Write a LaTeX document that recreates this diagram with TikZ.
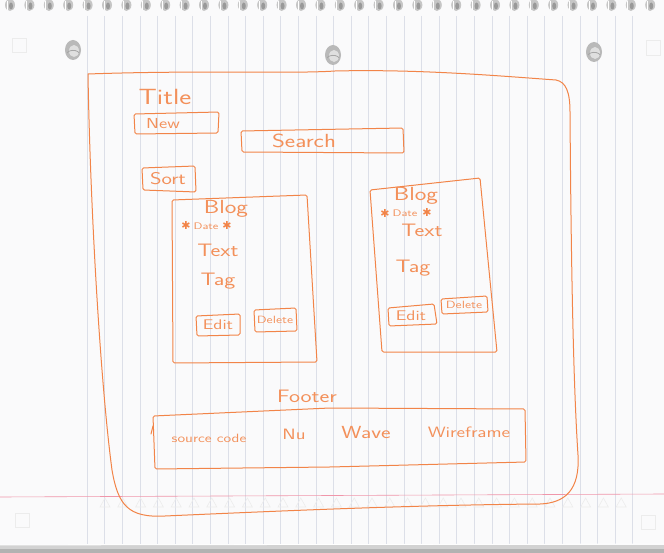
\documentclass[tikz,border=0pt]{standalone}
\usepackage{fontspec}
\newfontfamily\symfont{DejaVu Sans}
\definecolor{inkorange}{RGB}{242,132,72}
\definecolor{paper}{RGB}{250,250,251}
\definecolor{rule}{RGB}{220,223,232}
\definecolor{margin}{RGB}{240,150,170}
% handwriting runs wide: stretch the letters sideways
\newcommand\wide[1]{\scalebox{1.3}[1]{#1}}
\begin{document}
\begin{tikzpicture}[x=1pt,y=-1pt,
  ink/.style={draw=inkorange, line width=1pt, line join=round, line cap=round},
  boxink/.style={ink, rounded corners=1.5pt},
  hand/.style={text=inkorange!90, font=\sffamily\fontsize{#1}{#1}\selectfont, inner sep=0pt},
  star/.style={text=inkorange, font=\symfont\fontsize{#1}{#1}\selectfont, inner sep=0pt},
  faint/.style={draw=gray!15, line width=0.6pt}]
\useasboundingbox (0,0) rectangle (664,553);

% sheet of notebook paper
\fill[paper] (0,0) rectangle (664,553);

% ruled lines
\foreach \k in {0,...,31}
  \draw[rule, line width=0.5pt] ({87+17.6*\k},16) -- ({87+17.6*\k},544);
% margin line
\draw[margin, line width=0.6pt] (0,497) -- (664,494);

% faint printed triangles along the margin
\foreach \k in {0,...,29}
  \draw[faint] ({100+17.8*\k},507) -- ({105+17.8*\k},498) -- ({110+17.8*\k},507) -- cycle;

% corner marks
\draw[faint, line width=0.8pt] (12,38) rectangle (26,52);
\draw[faint, line width=0.8pt] (646,40) rectangle (660,55);
\draw[faint, line width=0.8pt] (15,513) rectangle (29,527);
\draw[faint, line width=0.8pt] (641,515) rectangle (655,529);

% spiral binding
\foreach \k in {0,...,33} {
  \fill[gray!45] ({10+19.4*\k},5) ellipse (5 and 6);
  \fill[gray!80] ({11+19.4*\k},6) ellipse (2 and 3.5);
  \draw[white, line width=0.8pt] ({7+19.4*\k},1) -- ({7+19.4*\k},10);
}

% punched holes
\foreach \hx/\hy in {73/50, 333/55, 594/52} {
  \fill[gray!55] (\hx,\hy) ellipse (8 and 10);
  \fill[gray!25] (\hx+1,\hy+1) ellipse (5 and 6);
  \draw[gray!70, line width=0.8pt] (\hx-6,\hy+3) arc (200:340:6.5 and 4);
}

% bottom edge of the sheet
\fill[gray!35] (0,545) rectangle (664,553);
\fill[gray!60] (0,549) rectangle (664,553);
\draw[white, line width=0.8pt] (0,545) -- (664,544);

% page frame
\draw[ink] (88,74) .. controls (200,70) and (290,74) .. (335,71)
  .. controls (420,69) and (500,76) .. (556,80)
  .. controls (566,82) and (570,92) .. (570,112)
  .. controls (571,250) and (573,380) .. (578,455)
  .. controls (580,490) and (565,503) .. (540,504)
  .. controls (420,505) and (300,510) .. (165,516)
  .. controls (128,518) and (118,505) .. (112,470)
  .. controls (100,380) and (90,200) .. (88,74);

% header controls
\node[hand=22] (title) at (165,97) {\wide{Title}};
\draw[boxink] (134,114) -- (219,112) -- (218,133) -- (135,134) -- cycle;
\node[hand=14.5] (new) at (163,124) {\wide{New}};
\draw[boxink] (241,131) -- (403,128) -- (404,153) -- (242,152) -- cycle;
\node[hand=19] (search) at (304,141) {\wide{Search}};
\draw[boxink] (142,168) -- (195,166) -- (196,192) -- (143,190) -- cycle;
\node[hand=17] (sort) at (168,179) {\wide{Sort}};

% left blog card
\draw[boxink] (172,200) -- (307,195) -- (317,362) -- (173,363) -- cycle;
\node[hand=19] (blogL) at (226,209) {\wide{Blog}};
\node[hand=9.5] (dateL) at (206,226) {\wide{Date}};
\node[star=11] (starL1) at (186,225) {✱};
\node[star=11] (starL2) at (227,225) {✱};
\node[hand=18] (textL) at (218,250) {\wide{Text}};
\node[hand=18] (tagL) at (218,281) {\wide{Tag}};
\draw[boxink] (196,316) -- (240,314) -- (240,335) -- (197,336) -- cycle;
\node[hand=14] (editL) at (218,325) {\wide{Edit}};
\draw[boxink] (254,310) -- (296,308) -- (297,331) -- (255,332) -- cycle;
\node[hand=10.5] (deleteL) at (275,320) {\wide{Delete}};

% right blog card
\draw[boxink] (370,190) -- (480,178) -- (497,352) -- (382,352) -- cycle;
\node[hand=19] (blogR) at (416,196) {\wide{Blog}};
\node[hand=9.5] (dateR) at (405,213) {\wide{Date}};
\node[star=11] (starR1) at (385,213) {✱};
\node[star=11] (starR2) at (427,212) {✱};
\node[hand=18] (textR) at (422,230) {\wide{Text}};
\node[hand=18] (tagR) at (413,268) {\wide{Tag}};
\draw[boxink] (388,308) -- (434,304) -- (437,324) -- (389,326) -- cycle;
\node[hand=14] (editR) at (411,316) {\wide{Edit}};
\draw[boxink] (441,299) -- (487,296) -- (488,312) -- (442,314) -- cycle;
\node[hand=10.5] (deleteR) at (464,305) {\wide{Delete}};

% footer
\node[hand=18] (footer) at (307,396) {\wide{Footer}};
\draw[boxink] (153,416) -- (330,408) -- (525,409) -- (526,462) -- (330,467) -- (155,469) -- cycle;
\draw[ink] (153,426) -- (151,434);
\node[hand=12] (source) at (209,438) {\wide{source code}};
\node[hand=15] (nu) at (294,434) {\wide{Nu}};
\node[hand=17.5] (wave) at (366,432) {\wide{Wave}};
\node[hand=15] (wireframe) at (469,432) {\wide{Wireframe}};
\end{tikzpicture}
\end{document}
